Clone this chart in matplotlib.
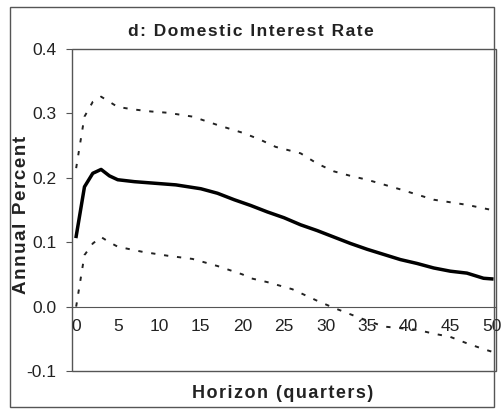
import matplotlib
matplotlib.use('Agg')
import matplotlib.pyplot as plt
from matplotlib.patches import Rectangle

plt.rcParams['font.family'] = ['Liberation Sans', 'DejaVu Sans']

# impulse response, point estimate
h_mid = [0, 1, 2, 3, 4, 5, 7, 10, 12, 15, 17, 19, 21, 23, 25, 27, 29, 31,
         33, 35, 37, 39, 41, 43, 45, 47, 49, 50]
resp_mid = [0.109, 0.186, 0.207, 0.213, 0.203, 0.197, 0.194, 0.191, 0.189,
            0.183, 0.176, 0.166, 0.157, 0.147, 0.138, 0.127, 0.118, 0.108,
            0.098, 0.089, 0.081, 0.073, 0.067, 0.060, 0.055, 0.052, 0.044,
            0.043]

# upper band
h_up = [0, 1, 2, 3, 4, 5, 7, 9, 11, 14, 17, 20, 22, 24, 27, 29, 31, 33,
        35, 39, 43, 47, 50]
resp_up = [0.215, 0.295, 0.318, 0.326, 0.318, 0.310, 0.306, 0.303, 0.301,
           0.295, 0.282, 0.270, 0.260, 0.248, 0.238, 0.222, 0.210, 0.203,
           0.197, 0.182, 0.166, 0.158, 0.150]

# lower band
h_lo = [0, 1, 2, 3, 4, 5, 8, 11, 14, 17, 20, 21, 23, 26, 29, 31, 34, 37,
        41, 43, 45, 47, 49, 50]
resp_lo = [0.000, 0.080, 0.098, 0.108, 0.100, 0.093, 0.085, 0.079, 0.074,
           0.063, 0.050, 0.044, 0.038, 0.027, 0.009, -0.002, -0.017, -0.031,
           -0.036, -0.042, -0.047, -0.057, -0.066, -0.070]

x_ticks = [0, 5, 10, 15, 20, 25, 30, 35, 40, 45, 50]
y_ticks = [0.4, 0.3, 0.2, 0.1, 0.0, -0.1]


def spaced(s):
    # widen letter spacing a bit with hair spaces
    return '\u200a'.join(s)


fig = plt.figure(figsize=(5.04, 4.09), dpi=100)
ax = fig.add_axes([72 / 504, 1 - 371 / 409, 424 / 504, 322 / 409])

frame_col = '#555555'
fig.patches.append(Rectangle((10 / 504, 1 - 407 / 409), 484 / 504, 400 / 409,
                             transform=fig.transFigure, fill=False,
                             edgecolor=frame_col, linewidth=1.0))

ax.plot(h_mid, resp_mid, color='black', linewidth=2.5, solid_joinstyle='round')
ax.plot(h_up, resp_up, color='#222222', linewidth=1.4,
        linestyle=(0, (2.2, 4.5)))
ax.plot(h_lo, resp_lo, color='#222222', linewidth=1.4,
        linestyle=(0, (2.2, 4.5)))

ax.set_xlim(-0.5, 50.5)
ax.set_ylim(-0.1, 0.4)

# x axis crosses at zero, the box stays around the plot
for s in ['top', 'left', 'right']:
    ax.spines[s].set_visible(False)
ax.spines['bottom'].set_position(('data', 0))
ax.spines['bottom'].set_color(frame_col)
ax.add_patch(Rectangle((0, 0), 1, 1, transform=ax.transAxes, fill=False,
                       edgecolor=frame_col, linewidth=1.0, clip_on=False))

ax.set_xticks(x_ticks)
ax.set_xticklabels([str(t) for t in x_ticks])
ax.tick_params(axis='x', length=0, pad=9, labelsize=12.5, labelcolor='#222222')
ax.set_yticks(y_ticks)
ax.set_yticklabels(['%.1f' % t for t in y_ticks])
ax.tick_params(axis='y', length=4, direction='out', color=frame_col, pad=7,
               labelsize=12.5, labelcolor='#222222')

fig.text(251 / 504, 1 - 31 / 409, spaced('d: Domestic Interest Rate'),
         ha='center', va='center', fontsize=12.5, fontweight='bold',
         color='#222222')
fig.text(283 / 504, 1 - 393 / 409, spaced('Horizon (quarters)'), ha='center',
         va='center', fontsize=13, fontweight='bold', color='#222222')
fig.text(22 / 504, 1 - 215 / 409, spaced('Annual Percent'), ha='center',
         va='center', rotation=90, fontsize=13.5, fontweight='bold',
         color='#222222')

plt.savefig('out.png', dpi=100)
